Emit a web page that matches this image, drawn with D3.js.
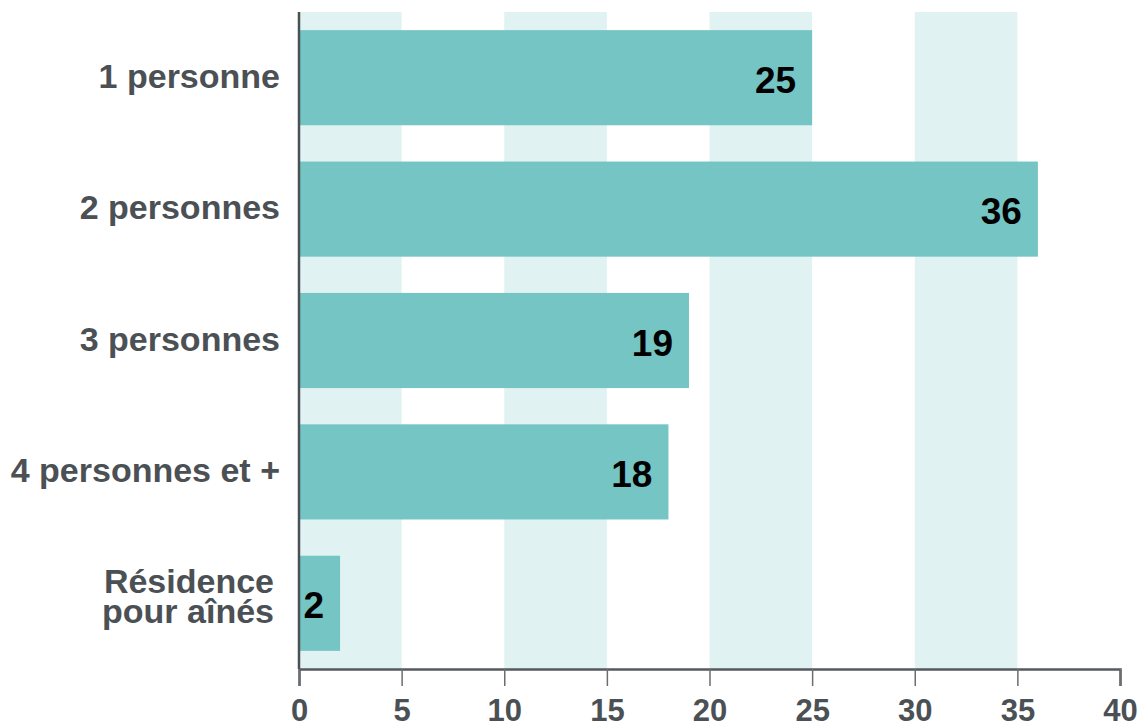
<html>
  <head>
    <meta charset="utf-8">
    <script src="https://d3js.org/d3.v7.min.js"></script>
    <style>
      body { margin: 0; background: #fff; }
      text { font-family: "Liberation Sans", Arial, Helvetica, sans-serif; font-weight: bold; }
    </style>
  </head>
  <body>
  <div id="chart"></div>
  <script>

  // data
  var categories = ["1 personne", "2 personnes", "3 personnes", "4 personnes et +", "Résidence\npour aînés"];
  var values = [25, 36, 19, 18, 2];
  var xTicks = [0, 5, 10, 15, 20, 25, 30, 35, 40];

  var W = 1137, H = 725;
  var plotTop = 12, plotBottom = 669, plotLeft = 299, plotRight = 1120;

  var svg = d3.select("#chart").append("svg")
      .attr("width", W)
      .attr("height", H);

  var x = d3.scaleLinear().domain([0, 40]).range([plotLeft, plotRight]);
  var y = d3.scaleBand().domain(categories).range([plotTop, plotBottom])
      .paddingInner(0.276).paddingOuter(0.138);

  // alternate background stripes (0-5, 10-15, ...)
  var stripes = xTicks.filter(function(d, i) { return i % 2 == 0 && i < xTicks.length - 1; });
  svg.selectAll("rect.stripe").data(stripes).enter().append("rect")
      .attr("class", "stripe")
      .attr("x", function(d) { return x(d); })
      .attr("y", plotTop)
      .attr("width", function(d) { return x(d + 5) - x(d); })
      .attr("height", plotBottom - plotTop)
      .attr("fill", "#e1f2f2");

  // bars
  svg.selectAll("rect.bar").data(values).enter().append("rect")
      .attr("class", "bar")
      .attr("x", x(0))
      .attr("y", function(d, i) { return y(categories[i]); })
      .attr("width", function(d) { return x(d) - x(0); })
      .attr("height", y.bandwidth())
      .attr("fill", "#74c5c4");

  // value labels
  svg.selectAll("text.val").data(values).enter().append("text")
      .attr("class", "val")
      .attr("x", function(d) { return x(d) - 16; })
      .attr("y", function(d, i) { return y(categories[i]) + y.bandwidth() / 2 + 15; })
      .attr("text-anchor", "end")
      .style("font-size", "37px")
      .attr("fill", "#000")
      .text(function(d) { return d; });

  // x axis
  var xAxis = d3.axisBottom(x).tickValues(xTicks).tickSize(17).tickPadding(13);
  var gx = svg.append("g")
      .attr("transform", "translate(0," + plotBottom + ")")
      .call(xAxis);
  gx.select(".domain").attr("stroke", "#555a5e").attr("stroke-width", 2.5);
  gx.selectAll(".tick line").attr("stroke", "#6a6e72").attr("stroke-width", 1.5);
  gx.selectAll(".tick text")
      .attr("fill", "#4b5055")
      .style("font-size", "31px")
      .style("font-family", "\"Liberation Sans\", Arial, sans-serif")
      .style("font-weight", "bold");

  // left axis line
  svg.append("line")
      .attr("x1", plotLeft).attr("x2", plotLeft)
      .attr("y1", plotTop).attr("y2", plotBottom)
      .attr("stroke", "#4b5055")
      .attr("stroke-width", 2.5);

  // category labels
  categories.forEach(function(c) {
    var lines = c.split("\n");
    var cy = y(c) + y.bandwidth() / 2;
    var t = svg.append("text")
        .attr("text-anchor", "end")
        .attr("fill", "#4b5055")
        .style("font-size", "34px");
    if (lines.length == 1) {
      t.attr("x", plotLeft - 19).attr("y", cy + 10).text(c);
    } else {
      lines.forEach(function(l, i) {
        t.append("tspan")
          .attr("x", plotLeft - 25)
          .attr("y", cy - 10 + i * 30)
          .text(l);
      });
    }
  });

  </script>
  </body>
</html>
